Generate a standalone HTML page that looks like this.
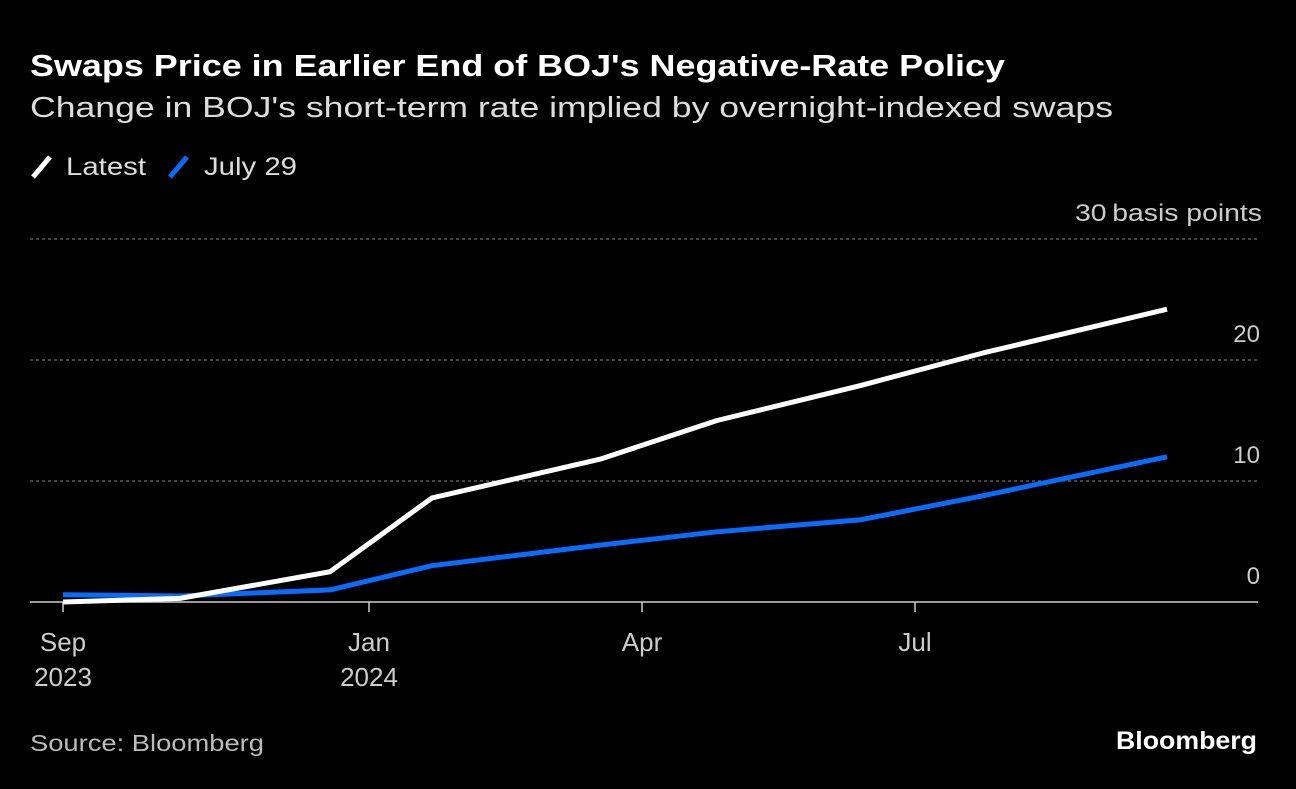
<!DOCTYPE html>
<html><head><meta charset="utf-8"><style>
body{margin:0;background:#000;width:1296px;height:784px;overflow:hidden;font-family:"Liberation Sans",sans-serif;color:#fff}
</style></head><body>
<svg width="1296" height="784">
<text x="30" y="76" font-size="31" font-weight="bold" fill="#fff" textLength="975" lengthAdjust="spacingAndGlyphs">Swaps Price in Earlier End of BOJ's Negative-Rate Policy</text>
<text x="30" y="117" font-size="29" fill="#ddd" textLength="1083" lengthAdjust="spacingAndGlyphs">Change in BOJ's short-term rate implied by overnight-indexed swaps</text>
<g><line x1="33" y1="177" x2="50" y2="157" stroke="#fff" stroke-width="5"/><text x="66" y="175" font-size="25" fill="#ddd" textLength="80" lengthAdjust="spacingAndGlyphs">Latest</text></g>
<g><line x1="170" y1="177" x2="187" y2="157" stroke="#0a6cff" stroke-width="5"/><text x="204" y="175" font-size="25" fill="#ddd" textLength="93" lengthAdjust="spacingAndGlyphs">July 29</text></g>
<g id="grid"></g><g id="xaxis"></g><g id="lines"></g>
<text x="30" y="751" font-size="23" fill="#bbb" textLength="234" lengthAdjust="spacingAndGlyphs">Source: Bloomberg</text>
<text x="1116" y="749" font-size="25" font-weight="bold" fill="#fff" textLength="141" lengthAdjust="spacingAndGlyphs">Bloomberg</text>
</svg>
<script>
const days=[-102,-63,-13,21,77,116,164,205,266];
const latest=[0,0.3,2.5,8.6,11.8,15,17.9,20.6,24.2];
const july29=[0.6,0.5,1.0,3.0,4.7,5.8,6.8,8.8,12.0];
const yTicks=[0,10,20,30];
const xTickDays=[-102,0,91,182];
const xTickLabels=[["Sep","2023"],["Jan","2024"],["Apr",""],["Jul",""]];
const X=d=>369+d*3;
const Y=v=>602-v*12.1;
const NS="http://www.w3.org/2000/svg";
function mk(t,a,p){const e=document.createElementNS(NS,t);for(const k in a)e.setAttribute(k,a[k]);p.appendChild(e);return e;}
const grid=document.getElementById('grid');
yTicks.forEach(v=>{
 if(v>0){const l=mk('line',{x1:30,x2:1258,y1:Y(v),y2:Y(v),stroke:'#888','stroke-dasharray':'3,3','stroke-width':1},grid);
 
 }
 const t=mk('text',{x:1260,y:Y(v)-18,'font-size':24,fill:'#ccc','text-anchor':'end'},grid);
 t.textContent=v===30?'30\u2009basis points':String(v);
 if(v===30){t.setAttribute('x',1075);t.setAttribute('text-anchor','start');t.setAttribute('textLength',187);t.setAttribute('lengthAdjust','spacingAndGlyphs');}
 
 
});
const xa=document.getElementById('xaxis');
const ax=mk('line',{x1:30,x2:1258,y1:602,y2:602,stroke:'#ccc','stroke-width':1.5},xa);


xTickDays.forEach((d,i)=>{
 const tk=mk('line',{x1:X(d),x2:X(d),y1:602,y2:612,stroke:'#ccc','stroke-width':1.5},xa);
 
 
 xTickLabels[i].forEach((s,j)=>{if(!s)return;
  const t=mk('text',{x:X(d),y:651+j*35,'font-size':26,fill:'#ccc','text-anchor':'middle'},xa);
  t.textContent=s;
  
  });
});
const lg=document.getElementById('lines');
[[july29,'#0a6cff','line-july-29'],[latest,'#fff','line-latest']].forEach(([s,c,n])=>{
 const p=mk('polyline',{points:days.map((d,i)=>X(d)+','+Y(s[i])).join(' '),fill:'none',stroke:c,'stroke-width':5,'stroke-linejoin':'round'},lg);
 
 
});
</script>
</body></html>
